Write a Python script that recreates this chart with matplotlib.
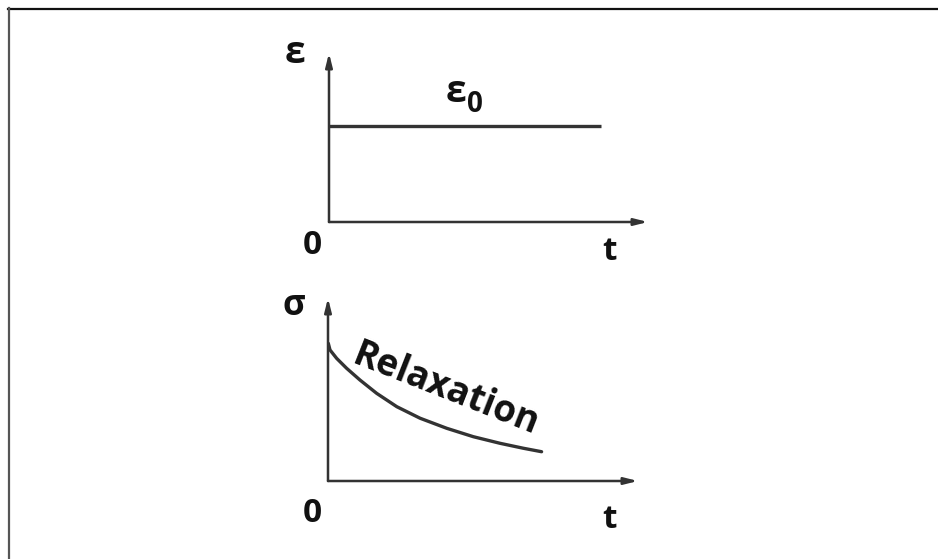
import numpy as np
import matplotlib
matplotlib.use("Agg")
import matplotlib.pyplot as plt
from matplotlib.lines import Line2D

# ---- data ----
t_strain = [0.0, 8.53]
eps_strain = [0.568, 0.568]

t_relax = [0.01, 0.065, 0.28, 0.60, 1.03, 1.57, 2.22, 2.97, 3.83, 4.69, 5.55, 6.30, 6.89]
sigma_relax = [0.752, 0.716, 0.670, 0.616, 0.552, 0.479, 0.406, 0.343, 0.288,
               0.242, 0.206, 0.179, 0.160]

FONT = "Open Sans"
W, H = 938, 559
fig = plt.figure(figsize=(W / 100, H / 100), dpi=100)
fig.patch.set_facecolor("white")

def fx(px):
    return px / W

def fy(py):
    return 1 - py / H

# border (top and left)
fig.add_artist(Line2D([fx(8), 1], [fy(8.5), fy(8.5)], color="#111111", lw=1.6,
                      transform=fig.transFigure))
fig.add_artist(Line2D([fx(8.5), fx(8.5)], [fy(8), 0], color="#555555", lw=1.6,
                      transform=fig.transFigure))

LC = "#333333"

def make_axes(left, bottom, right, top):
    ax = fig.add_axes([fx(left), fy(bottom), fx(right) - fx(left), fy(top) - fy(bottom)])
    ax.set_xlim(0, 10)
    ax.set_ylim(0, 1)
    ax.axis("off")
    ap = dict(arrowstyle="-|>,head_length=0.8,head_width=0.2", color=LC, lw=1.8,
              shrinkA=0, shrinkB=0)
    ax.annotate("", xy=(10, 0), xytext=(0, 0), arrowprops=ap, annotation_clip=False)
    ax.annotate("", xy=(0, 1), xytext=(0, 0), arrowprops=ap, annotation_clip=False)
    return ax

ax1 = make_axes(329, 222, 648, 53)
ax1.plot(t_strain, eps_strain, color=LC, lw=2.4, solid_capstyle="butt")

ax2 = make_axes(328, 481, 638, 298)
ax2.plot(t_relax, sigma_relax, color=LC, lw=2.4, solid_capstyle="round",
         solid_joinstyle="round")

tk = dict(fontfamily=FONT, fontweight="bold", color="#111111")
fig.text(fx(294.5), fy(53), "ε", fontsize=27, ha="center", va="center", **tk)
fig.text(fx(456), fy(92), "ε", fontsize=27, ha="center", va="center", **tk)
fig.text(fx(475), fy(105), "0", fontsize=20, ha="center", va="center", **tk)
fig.text(fx(312), fy(245), "0", fontsize=24, ha="center", va="center", **tk)
fig.text(fx(609.5), fy(251.5), "t", fontsize=24, ha="center", va="center", **tk)

fig.text(fx(293.5), fy(306), "σ", fontsize=25, ha="center", va="center", **tk)
fig.text(fx(312), fy(513.5), "0", fontsize=24, ha="center", va="center", **tk)
fig.text(fx(609.5), fy(520), "t", fontsize=24, ha="center", va="center", **tk)
fig.text(fx(446), fy(390), "Relaxation", fontsize=26.5, rotation=-21.5,
         rotation_mode="anchor", ha="center", va="center", **tk)

fig.savefig("out.png", dpi=100, facecolor="white")
